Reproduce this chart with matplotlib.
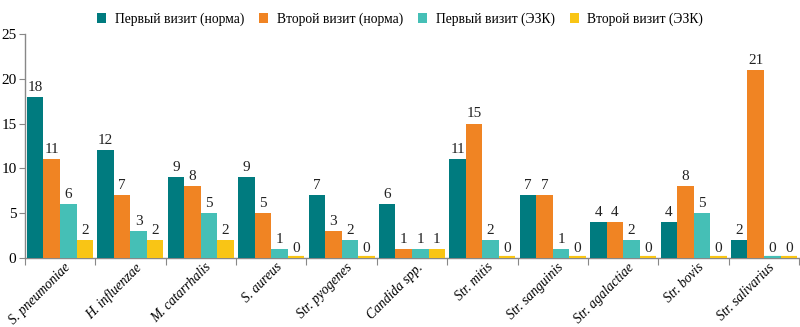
import matplotlib
matplotlib.use("Agg")
import matplotlib.pyplot as plt
import matplotlib.transforms as mtransforms
import numpy as np

categories = ["S. pneumoniae", "H. influenzae", "M. catarrhalis", "S. aureus",
              "Str. pyogenes", "Candida spp.", "Str. mitis", "Str. sanguinis",
              "Str. agalactiae", "Str. bovis", "Str. salivarius"]
series_names = ["Первый визит (норма)", "Второй визит (норма)",
                "Первый визит (ЭЗК)", "Второй визит (ЭЗК)"]
first_norm = [18, 12, 9, 9, 7, 6, 11, 7, 4, 4, 2]
second_norm = [11, 7, 8, 5, 3, 1, 15, 7, 4, 8, 21]
first_ezk = [6, 3, 5, 1, 2, 1, 2, 1, 2, 5, 0]
second_ezk = [2, 2, 2, 0, 0, 1, 0, 0, 0, 0, 0]
y_ticks = [0, 5, 10, 15, 20, 25]

colors = ["#007B7F", "#F08423", "#45BFB6", "#F9C515"]
series = [first_norm, second_norm, first_ezk, second_ezk]

plt.rcParams["font.family"] = ["Liberation Serif", "DejaVu Serif"]

fig = plt.figure(figsize=(8.0, 3.27), dpi=100)
ax = fig.add_axes([0.031, 0.211, 0.968, 0.685])

x = np.arange(len(categories))
width = 0.235
offsets = (np.arange(4) - 1.5) * width

for vals, col, off, name in zip(series, colors, offsets, series_names):
    # zero counts still get a thin sliver along the baseline
    lw = [3.0 if v == 0 else 0.0 for v in vals]
    ax.bar(x + off, vals, width, color=col, edgecolor=col,
           linewidth=lw, label=name, zorder=2)
    for xi, v in zip(x + off, vals):
        ax.text(xi, v + 0.35, str(v), ha="center", va="bottom",
                fontsize=11, color="#222222")

ax.set_xlim(-0.5, len(categories) - 0.5)
ax.set_ylim(0, 25)
ax.set_yticks(y_ticks)
ax.tick_params(axis="y", labelsize=11, length=4, color="#888888", pad=2)

ax.set_xticks(np.arange(len(categories) + 1) - 0.5)
ax.set_xticklabels([""] * (len(categories) + 1))
ax.tick_params(axis="x", length=5, color="#888888")
ax.set_xticks(x, minor=True)
ax.set_xticklabels(categories, minor=True, rotation=45, ha="right",
                   va="top", rotation_mode="anchor", fontsize=9.8,
                   style="italic")
ax.tick_params(axis="x", which="minor", length=0, pad=2)
shift = mtransforms.ScaledTranslation(4 / 100, 0, fig.dpi_scale_trans)
for lbl in ax.get_xticklabels(minor=True):
    lbl.set_transform(lbl.get_transform() + shift)

for s in ["top", "right"]:
    ax.spines[s].set_visible(False)
for s in ["left", "bottom"]:
    ax.spines[s].set_color("#888888")
    ax.spines[s].set_linewidth(1.0)
    ax.spines[s].set_zorder(1)

handles, labels = ax.get_legend_handles_labels()
fig.legend(handles, labels, loc="upper center", bbox_to_anchor=(0.5, 1.0),
           ncol=4, frameon=False, fontsize=9.8, handlelength=0.7,
           handleheight=0.7, handletextpad=0.6, columnspacing=1.1)

fig.savefig("out.png", dpi=100)
